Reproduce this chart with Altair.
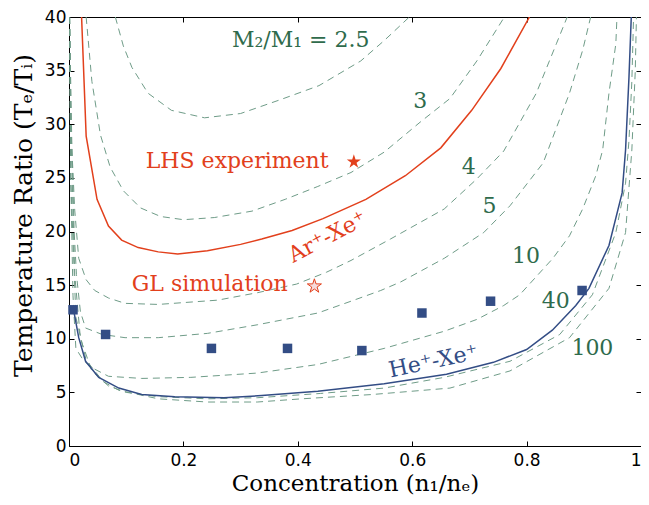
import altair as alt
import pandas as pd

X_TICKS = [0, 0.2, 0.4, 0.6, 0.8, 1.0]
Y_TICKS = [0, 5, 10, 15, 20, 25, 30, 35, 40]

# Dashed curves, M2/M1 = 2.5, 3, 4, 5, 10, 40, 100
m25_x = [0.081, 0.095, 0.110, 0.138, 0.179, 0.237, 0.300, 0.370, 0.437, 0.510, 0.551, 0.595]
m25_y = [40.0, 37.3, 35.3, 32.9, 31.3, 30.6, 31.0, 32.3, 33.6, 35.9, 37.8, 40.0]
m3_x = [0.030, 0.040, 0.055, 0.072, 0.095, 0.125, 0.160, 0.200, 0.254, 0.320, 0.378, 0.435, 0.493, 0.551, 0.614, 0.666, 0.713, 0.760]
m3_y = [40.0, 34.0, 29.0, 26.0, 23.8, 22.2, 21.4, 21.1, 21.3, 21.9, 23.0, 24.2, 25.5, 27.4, 30.2, 32.4, 35.9, 39.9]
m4_x = [0.001, 0.003, 0.010, 0.017, 0.030, 0.045, 0.069, 0.098, 0.156, 0.260, 0.330, 0.398, 0.450, 0.493, 0.562, 0.656, 0.713, 0.760, 0.817, 0.852, 0.871]
m4_y = [40.0, 30.0, 22.0, 17.5, 15.5, 14.5, 13.8, 13.3, 13.2, 13.6, 14.3, 15.1, 16.2, 17.3, 19.3, 22.1, 24.9, 27.5, 32.9, 37.5, 40.0]
m5_x = [0.001, 0.005, 0.009, 0.013, 0.020, 0.029, 0.058, 0.098, 0.156, 0.242, 0.329, 0.435, 0.493, 0.545, 0.580, 0.656, 0.725, 0.771, 0.829, 0.875, 0.898, 0.912]
m5_y = [40.0, 28.0, 20.0, 16.0, 12.5, 11.0, 10.4, 10.1, 10.1, 10.5, 11.3, 12.4, 13.5, 14.5, 15.3, 17.5, 19.9, 22.4, 26.4, 32.9, 36.9, 40.0]
m10_x = [0.001, 0.003, 0.007, 0.012, 0.025, 0.040, 0.069, 0.127, 0.213, 0.329, 0.435, 0.551, 0.656, 0.713, 0.760, 0.788, 0.846, 0.875, 0.898, 0.921, 0.933, 0.944, 0.956, 0.958]
m10_y = [40.0, 25.0, 14.0, 9.1, 8.0, 7.3, 6.5, 6.3, 6.4, 6.8, 7.6, 9.1, 10.7, 11.8, 13.1, 14.1, 17.5, 19.6, 22.1, 25.2, 27.6, 32.9, 37.5, 40.0]
m40_x = [0.001, 0.004, 0.010, 0.020, 0.040, 0.069, 0.100, 0.156, 0.242, 0.329, 0.440, 0.551, 0.656, 0.771, 0.858, 0.915, 0.956, 0.973, 0.979, 0.984, 0.987]
m40_y = [40.0, 28.0, 16.0, 10.0, 7.0, 5.6, 5.0, 4.6, 4.4, 4.5, 4.9, 5.4, 6.4, 7.9, 10.4, 14.1, 19.9, 24.5, 28.5, 34.0, 40.0]
m100_x = [0.001, 0.003, 0.012, 0.030, 0.060, 0.087, 0.156, 0.242, 0.329, 0.407, 0.530, 0.666, 0.771, 0.875, 0.944, 0.973, 0.984, 0.990, 0.992]
m100_y = [40.0, 25.0, 12.0, 8.0, 6.0, 5.2, 4.4, 4.1, 4.1, 4.4, 4.8, 5.4, 7.0, 10.1, 14.7, 19.9, 27.6, 35.0, 40.0]

# Solid curves
arxe_x = [0.022, 0.030, 0.049, 0.069, 0.092, 0.121, 0.156, 0.190, 0.242, 0.300, 0.337, 0.390, 0.444, 0.519, 0.588, 0.650, 0.704, 0.755, 0.805]
arxe_y = [40.0, 28.9, 23.0, 20.5, 19.2, 18.5, 18.1, 17.9, 18.2, 18.8, 19.3, 20.1, 21.2, 23.0, 25.2, 27.8, 31.3, 35.2, 40.0]
hexe_x = [0.008, 0.017, 0.029, 0.052, 0.087, 0.127, 0.185, 0.271, 0.337, 0.435, 0.551, 0.660, 0.742, 0.800, 0.845, 0.886, 0.909, 0.944, 0.967, 0.973, 0.979, 0.983]
hexe_y = [12.7, 10.1, 7.9, 6.4, 5.4, 4.8, 4.6, 4.5, 4.7, 5.1, 5.8, 6.7, 7.8, 9.0, 10.8, 13.1, 14.7, 18.7, 23.6, 27.6, 34.4, 40.0]

# He-Xe measured points
sq_x = [0.007, 0.064, 0.249, 0.382, 0.512, 0.617, 0.737, 0.897]
sq_y = [12.7, 10.4, 9.1, 9.1, 8.9, 12.4, 13.5, 14.5]

# Stars
lhs_x, lhs_y = [0.498], [26.5]
gl_x, gl_y = [0.429], [14.9]

# Labels
ratio_text = ["M\u2082/M\u2081 = 2.5", "3", "4", "5", "10", "40", "100"]
ratio_lx = [0.405, 0.614, 0.699, 0.735, 0.799, 0.851, 0.915]
ratio_ly = [37.9, 32.2, 26.0, 22.4, 17.7, 13.5, 9.1]
red_text = ["LHS experiment", "GL simulation"]
red_lx = [0.294, 0.246]
red_ly = [26.6, 15.1]

GREEN_LINE = "#6f9c88"
GREEN_TEXT = "#2f6b4c"
RED = "#e2401c"
BLUE = "#334d85"

curves = [("2.5", m25_x, m25_y), ("3", m3_x, m3_y), ("4", m4_x, m4_y), ("5", m5_x, m5_y),
          ("10", m10_x, m10_y), ("40", m40_x, m40_y), ("100", m100_x, m100_y)]
rows = []
for name, xs_, ys_ in curves:
    for i, (a, b) in enumerate(zip(xs_, ys_)):
        rows.append({"x": a, "y": b, "curve": name, "i": i})
dashed_df = pd.DataFrame(rows)
arxe_df = pd.DataFrame({"x": arxe_x, "y": arxe_y, "i": range(len(arxe_x))})
hexe_df = pd.DataFrame({"x": hexe_x, "y": hexe_y, "i": range(len(hexe_x))})
sq_df = pd.DataFrame({"x": sq_x, "y": sq_y})
lhs_df = pd.DataFrame({"x": lhs_x, "y": lhs_y})
gl_df = pd.DataFrame({"x": gl_x, "y": gl_y})
ratio_df = pd.DataFrame({"x": ratio_lx, "y": ratio_ly, "t": ratio_text})
red_df = pd.DataFrame({"x": red_lx, "y": red_ly, "t": red_text})
ar_lab = pd.DataFrame({"x": [0.452], "y": [19.5], "t": ["Ar\u207a-Xe\u207a"]})
he_lab = pd.DataFrame({"x": [0.637], "y": [7.9], "t": ["He\u207a-Xe\u207a"]})

xs = alt.Scale(domain=[0, 1], nice=False, zero=False)
ys = alt.Scale(domain=[0, 40], nice=False, zero=False)

x_main = alt.X("x:Q", scale=xs, axis=alt.Axis(
    values=X_TICKS, format="~g", orient="bottom", domain=False, grid=False,
    tickSize=5, offset=-5, tickColor="black", labelPadding=6,
    labelFont="DejaVu Sans", labelFontSize=17, labelColor="black",
    title="Concentration (n\u2081/n\u2091)", titleFont="DejaVu Serif", titleFontSize=23,
    titleFontWeight="normal", titleColor="black", titlePadding=4))
y_main = alt.Y("y:Q", scale=ys, axis=alt.Axis(
    values=Y_TICKS, orient="left", domain=False, grid=False,
    tickSize=5, offset=-5, tickColor="black", labelPadding=3,
    labelFont="DejaVu Sans", labelFontSize=17, labelColor="black",
    title="Temperature Ratio (T\u2091/T\u1d62)", titleFont="DejaVu Serif", titleFontSize=25,
    titleFontWeight="normal", titleColor="black", titlePadding=8, titleY=198))

x_top = alt.X("x:Q", scale=xs, axis=alt.Axis(
    values=X_TICKS, orient="top", domain=False, grid=False, labels=False,
    tickSize=5, offset=-5, tickColor="black", title=None))
y_right = alt.Y("y:Q", scale=ys, axis=alt.Axis(
    values=Y_TICKS, orient="right", domain=False, grid=False, labels=False,
    tickSize=5, offset=-5, tickColor="black", title=None))

xn = alt.X("x:Q", scale=xs, axis=None)
yn = alt.Y("y:Q", scale=ys, axis=None)

dashed = alt.Chart(dashed_df).mark_line(
    color=GREEN_LINE, strokeWidth=1, strokeDash=[7, 5], clip=True
).encode(x=x_main, y=y_main, detail="curve:N", order="i:Q")

red_line = alt.Chart(arxe_df).mark_line(color=RED, strokeWidth=1.5, clip=True).encode(
    x=xn, y=yn, order="i:Q")
blue_line = alt.Chart(hexe_df).mark_line(color=BLUE, strokeWidth=1.5, clip=True).encode(
    x=xn, y=yn, order="i:Q")

squares = alt.Chart(sq_df).mark_square(size=90, color=BLUE, opacity=1).encode(x=x_top, y=y_right)

STAR = ("M0,-1 L0.225,-0.309 L0.951,-0.309 L0.363,0.118 L0.588,0.809 L0,0.382 "
        "L-0.588,0.809 L-0.363,0.118 L-0.951,-0.309 L-0.225,-0.309 Z")
lhs_star = alt.Chart(lhs_df).mark_point(shape=STAR, size=220, filled=True, color=RED, opacity=1).encode(x=xn, y=yn)
gl_star = alt.Chart(gl_df).mark_point(shape=STAR, size=220, filled=True, fill="#f6dada",
                                      stroke=RED, strokeWidth=1, opacity=1).encode(x=xn, y=yn)

ratio_t = alt.Chart(ratio_df).mark_text(font="DejaVu Serif", fontSize=22, color=GREEN_TEXT,
                                        align="center", baseline="middle").encode(x=xn, y=yn, text="t:N")
red_t = alt.Chart(red_df).mark_text(font="DejaVu Serif", fontSize=22, color=RED,
                                    align="center", baseline="middle").encode(x=xn, y=yn, text="t:N")
ar_t = alt.Chart(ar_lab).mark_text(font="DejaVu Serif", fontSize=22, color=RED, angle=332,
                                   align="center", baseline="middle").encode(x=xn, y=yn, text="t:N")
he_t = alt.Chart(he_lab).mark_text(font="DejaVu Serif", fontSize=22, color=BLUE, angle=348,
                                   align="center", baseline="middle").encode(x=xn, y=yn, text="t:N")

chart = alt.layer(
    dashed, red_line, blue_line, squares, lhs_star, gl_star, ratio_t, red_t, ar_t, he_t
).resolve_axis(x="independent", y="independent").properties(
    width=572, height=429, autosize="none",
    padding={"left": 61, "top": 9, "right": 0, "bottom": 50},
    background="white"
).configure_view(stroke="black", strokeWidth=1)

chart.save("out.html", embed_options={"renderer": "svg", "actions": False})
